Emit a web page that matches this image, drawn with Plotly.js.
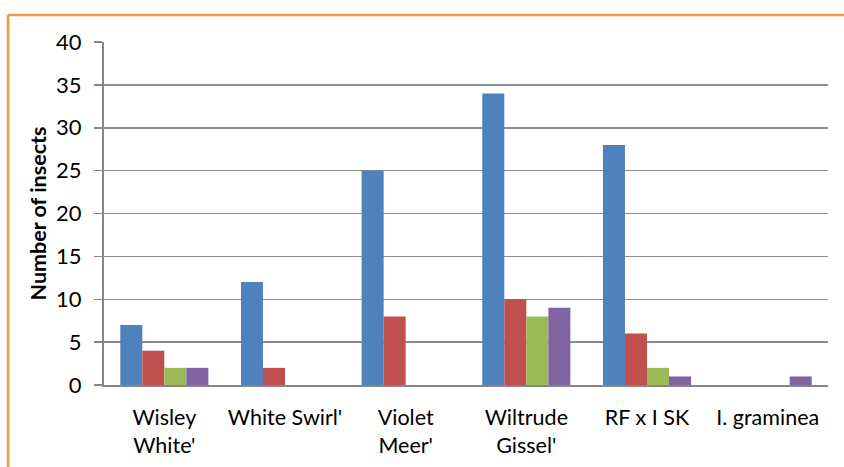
<!DOCTYPE html>
<html>
<head>
<meta charset="utf-8">
<script src="https://cdn.plot.ly/plotly-3.0.1.min.js"></script>
<style>html,body{margin:0;padding:0;background:#fff;}#chart{width:844px;height:467px;}</style>
</head>
<body>
<div id="chart"></div>
<script>
const categories = ["Wisley<br>White'", "White Swirl'", "Violet<br>Meer'", "Wiltrude<br>Gissel'", "RF x I SK", "I. graminea"];
const series1 = [7, 12, 25, 34, 28, 0];
const series2 = [4, 2, 8, 10, 6, 0];
const series3 = [2, 0, 0, 8, 2, 0];
const series4 = [2, 0, 0, 9, 1, 1];
const seriesNames = ["Series1", "Series2", "Series3", "Series4"];
const colors = ["#4F81BD", "#C0504D", "#9BBB59", "#8064A2"];
const yTicks = [0, 5, 10, 15, 20, 25, 30, 35, 40];

const allSeries = [series1, series2, series3, series4];
const traces = allSeries.map((s, i) => ({
  type: 'bar',
  name: seriesNames[i],
  x: categories,
  y: s,
  marker: {color: colors[i], line: {width: 0}},
  hoverinfo: 'x+y'
}));

const fontFam = 'Lato, "Open Sans", sans-serif';
const layout = {
  width: 844,
  height: 467,
  margin: {l: 104, r: 16, t: 42, b: 82, pad: 0},
  paper_bgcolor: '#ffffff',
  plot_bgcolor: '#ffffff',
  showlegend: false,
  barmode: 'group',
  bargap: 0.27,
  bargroupgap: 0,
  font: {family: fontFam, size: 21, color: '#000000'},
  xaxis: {
    type: 'category',
    showgrid: false,
    showline: true,
    linecolor: '#868686',
    linewidth: 2,
    ticks: 'outside',
    ticklen: 12,
    tickcolor: 'rgba(0,0,0,0)',
    tickfont: {family: fontFam, size: 21.5, color: '#000000'},
    automargin: false,
    fixedrange: true
  },
  yaxis: {
    range: [0, 40],
    tickvals: yTicks,
    ticktext: yTicks.map(String),
    showgrid: true,
    gridcolor: '#8C8C8C',
    gridwidth: 1.5,
    showline: true,
    linecolor: '#868686',
    linewidth: 2,
    ticks: 'outside',
    ticklen: 8,
    tickwidth: 1.5,
    tickcolor: '#868686',
    ticklabelstandoff: 8,
    zeroline: false,
    tickfont: {family: fontFam, size: 22, color: '#000000'},
    title: {text: '<b>Number of insects</b>', font: {family: fontFam, size: 21.5, color: '#000000'}, standoff: 4},
    automargin: false,
    fixedrange: true
  },
  shapes: [
    {type: 'line', xref: 'paper', yref: 'paper', x0: -96/724, x1: 740/724, y0: 1 + 27/343, y1: 1 + 27/343, line: {color: '#F79646', width: 2.5}},
    {type: 'line', xref: 'paper', yref: 'paper', x0: -96/724, x1: -96/724, y0: 1 + 27/343, y1: -82/343, line: {color: '#F79646', width: 2.5}}
  ]
};

Plotly.newPlot('chart', traces, layout, {displayModeBar: false, staticPlot: true});
</script>
</body>
</html>
